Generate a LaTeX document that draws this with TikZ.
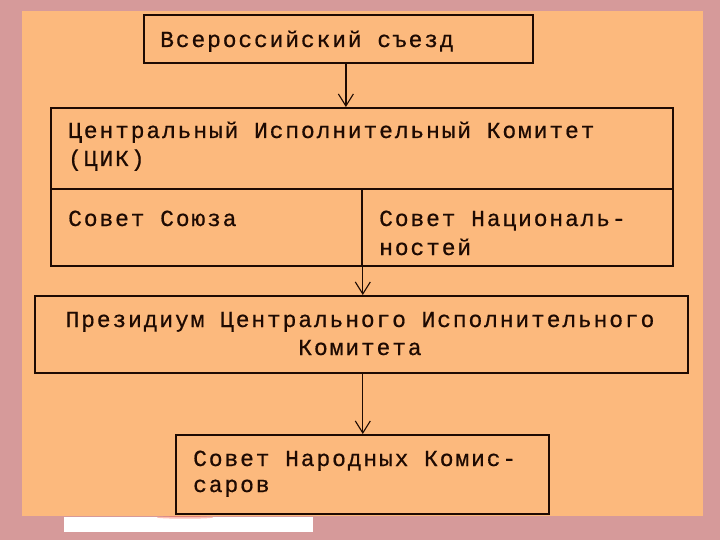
\documentclass[tikz,border=0pt]{standalone}
\usepackage{fontspec}
\usetikzlibrary{arrows.meta}
\newfontfamily\monofnt[LetterSpace=8.0,FakeBold=0.6]{Liberation Mono}
\definecolor{pinkbg}{HTML}{D69A9A}
\definecolor{panel}{HTML}{FCB97D}
\definecolor{ink}{HTML}{1E0A02}
\tikzset{
  box/.style={draw=ink, line width=1.8pt, anchor=north west, inner sep=0pt, fill=panel},
  lbl/.style={anchor=base west, inner sep=0pt, text=ink, font=\monofnt\fontsize{23}{29}\selectfont},
  lblc/.style={anchor=base, inner sep=0pt, text=ink, font=\monofnt\fontsize{23}{29}\selectfont},
  link/.style={draw=ink, line width=1.3pt, -{Straight Barb[length=12pt,width=15pt,line width=1.1pt]}}
}
\begin{document}
\begin{tikzpicture}[x=1pt,y=-1pt]
\useasboundingbox (0,0) rectangle (720,540);
\fill[pinkbg] (0,0) rectangle (720,540);
\fill[panel] (22,11) rectangle (703,516);
\fill[white] (64,517) rectangle (313,532);
\fill[red!70!orange, opacity=0.3] (185,517.5) ellipse (28pt and 1.2pt);
% boxes
\node[box, minimum width=389pt, minimum height=48pt] (b1) at (143,14) {};
\node[box, minimum width=622pt, minimum height=81pt] (cik) at (50,107) {};
\node[box, minimum width=311pt, minimum height=77pt] (sojuz) at (50,188) {};
\node[box, minimum width=311pt, minimum height=77pt] (nac) at (361,188) {};
\node[box, minimum width=653pt, minimum height=77pt] (prez) at (34,295) {};
\node[box, minimum width=373pt, minimum height=79pt] (snk) at (175,434) {};
% texts
\node[lbl] (t1) at (160,47) {Всероссийский съезд};
\node[lbl] (t2a) at (68,138) {Центральный Исполнительный Комитет};
\node[lbl] (t2b) at (68,166) {(ЦИК)};
\node[lbl] (t3) at (68,226) {Совет Союза};
\node[lbl] (t4a) at (379,226) {Совет Националь-};
\node[lbl] (t4b) at (379,255) {ностей};
\node[lblc] (t5a) at (360,327) {Президиум Центрального Исполнительного};
\node[lblc] (t5b) at (360,355) {Комитета};
\node[lbl] (t6a) at (193,466) {Совет Народных Комис-};
\node[lbl] (t6b) at (193,492) {саров};
% connectors
\coordinate (a1) at ([xshift=7.5pt]b1.south);
\draw[link] (a1) -- (a1 |- cik.north);
\draw[link] (sojuz.south east) -- (sojuz.south east |- prez.north);
\draw[link] (prez.south -| sojuz.south east) -- (sojuz.south east |- snk.north);
\end{tikzpicture}
\end{document}
